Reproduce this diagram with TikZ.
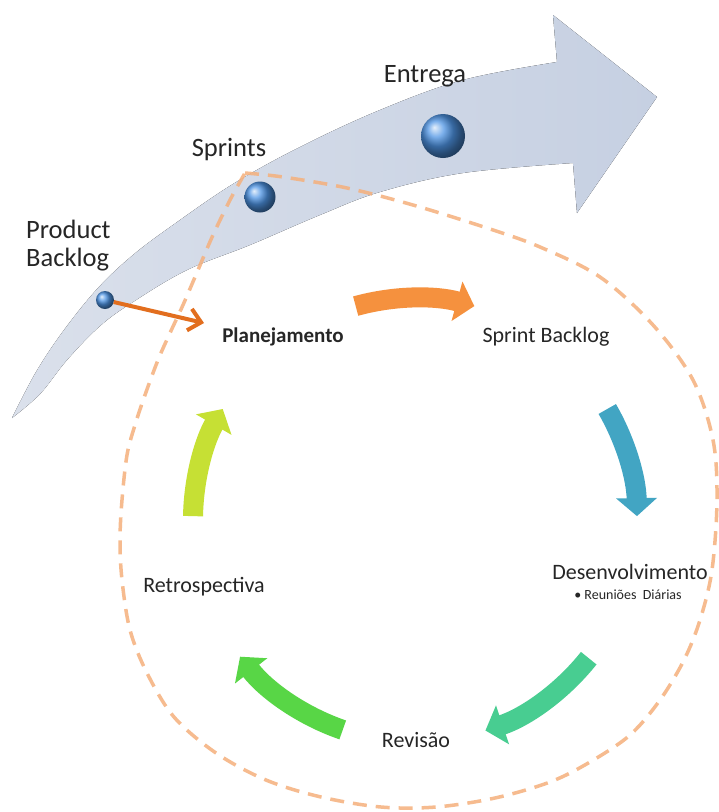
\documentclass[tikz,border=0pt]{standalone}
\usepackage{fontspec}
\setmainfont{Carlito}
\usetikzlibrary{arrows.meta,calc}

\definecolor{txt}{RGB}{38,38,38}
\definecolor{bandA}{RGB}{218,224,235}
\definecolor{bandB}{RGB}{198,208,226}
\definecolor{dashc}{RGB}{245,176,124}
\definecolor{sph}{RGB}{78,148,228}
\definecolor{linkc}{RGB}{226,110,30}
\definecolor{cOrange}{RGB}{245,145,62}
\definecolor{cTeal}{RGB}{66,165,195}
\definecolor{cSea}{RGB}{72,205,145}
\definecolor{cGreen}{RGB}{88,214,70}
\definecolor{cLime}{RGB}{198,224,52}

\begin{document}
\begin{tikzpicture}[x=1pt,y=-1pt,
  lbl/.style={font=\fontsize{26.5}{28}\selectfont, text=txt, inner sep=0pt},
  cyc/.style={font=\fontsize{22}{24}\selectfont, text=txt, inner sep=0pt},
  sphere/.style={circle, shading=ball, ball color=sph, inner sep=0pt},
  phase/.style={line width=20pt, -{Triangle[width=40pt,length=18pt]}},
]
\useasboundingbox (0,0) rectangle (719,812);
\fill[white] (0,0) rectangle (719,812);

% curved timeline arrow
\fill[left color=bandA, right color=bandB]
  (12,418) -- plot[smooth, tension=0.6] coordinates {(12,418) (36,372) (64,330) (98,288) (133,255) (173,225) (233,184) (300,147) (380,110) (463,80) (557,62)}
  -- (553,15) -- (657,97) -- (577,213) -- (573,163)
  -- plot[smooth, tension=0.6] coordinates {(573,163) (463,173) (380,192) (320,215) (250,245) (187,270) (133,302) (100,326) (67,360) (40,394) (12,418)}
  -- cycle;

% dashed sprint loop
\draw[dashc, line width=3.5pt, dash pattern=on 14pt off 9pt, draw opacity=0.85, line join=round]
  plot[smooth, tension=0.55] coordinates {(245,173) (283,177) (347,188) (413,205) (487,228) (540,247) (600,277) (653,325) (693,380) (713,440) (717,500) (712,570) (700,620) (684,660) (660,700) (630,735) (590,762) (550,782) (495,798) (436,807) (381,807) (321,797) (266,780) (216,753) (174,717) (147,673) (130,630) (122,580) (120,540) (122,500) (127,455) (135,425) (145,395) (158,360) (170,333) (183,305) (198,270) (213,235) (230,200) (245,173)};

% milestones on the timeline
\node[sphere, minimum size=18pt] (pbball) at (105,300) {};
\node[sphere, minimum size=31pt] (spball) at (260,197) {};
\node[sphere, minimum size=44pt] (enball) at (443,136) {};

\node[lbl, anchor=west, align=left] (pblbl) at (26,246) {Product\\Backlog};
\node[lbl] (splbl) at (229,150) {Sprints};
\node[lbl] (enlbl) at (425,76) {Entrega};

% sprint cycle labels
\node[cyc, font=\fontsize{21}{24}\selectfont\bfseries] (plan) at (283,337) {Planejamento};
\node[cyc] (sbl) at (546,337) {Sprint Backlog};
\node[cyc] (dev) at (630,572) {Desenvolvimento};
\node[font=\fontsize{14}{16}\selectfont, text=txt, inner sep=0pt] (daily) at (628,595) {•\ Reuniões\ \ Diárias};
\node[cyc] (rev) at (416,740) {Revisão};
\node[cyc] (retro) at (204,587) {Retrospectiva};

% backlog feeds the planning
\coordinate (pbend) at (204,323);
\draw[linkc, line width=4pt, -{Straight Barb[length=12pt,width=22pt]}, shorten <=9pt] (pbball.center) -- (pbend);

% cycle arrows on a common circle
\coordinate (hub) at (415,520);
\draw[phase, cOrange] ($(hub)+(-105.5:222)$) arc[start angle=-105.5, end angle=-74.5, radius=222];
\draw[phase, cTeal]   ($(hub)+(-30:222)$) arc[start angle=-30, end angle=-1, radius=222];
\draw[phase, cSea]    ($(hub)+(38.5:222)$) arc[start angle=38.5, end angle=71.5, radius=222];
\draw[phase, cGreen]  ($(hub)+(109:222)$) arc[start angle=109, end angle=142, radius=222];
\draw[phase, cLime]   ($(hub)+(181:222)$) arc[start angle=181, end angle=210, radius=222];
\end{tikzpicture}
\end{document}
